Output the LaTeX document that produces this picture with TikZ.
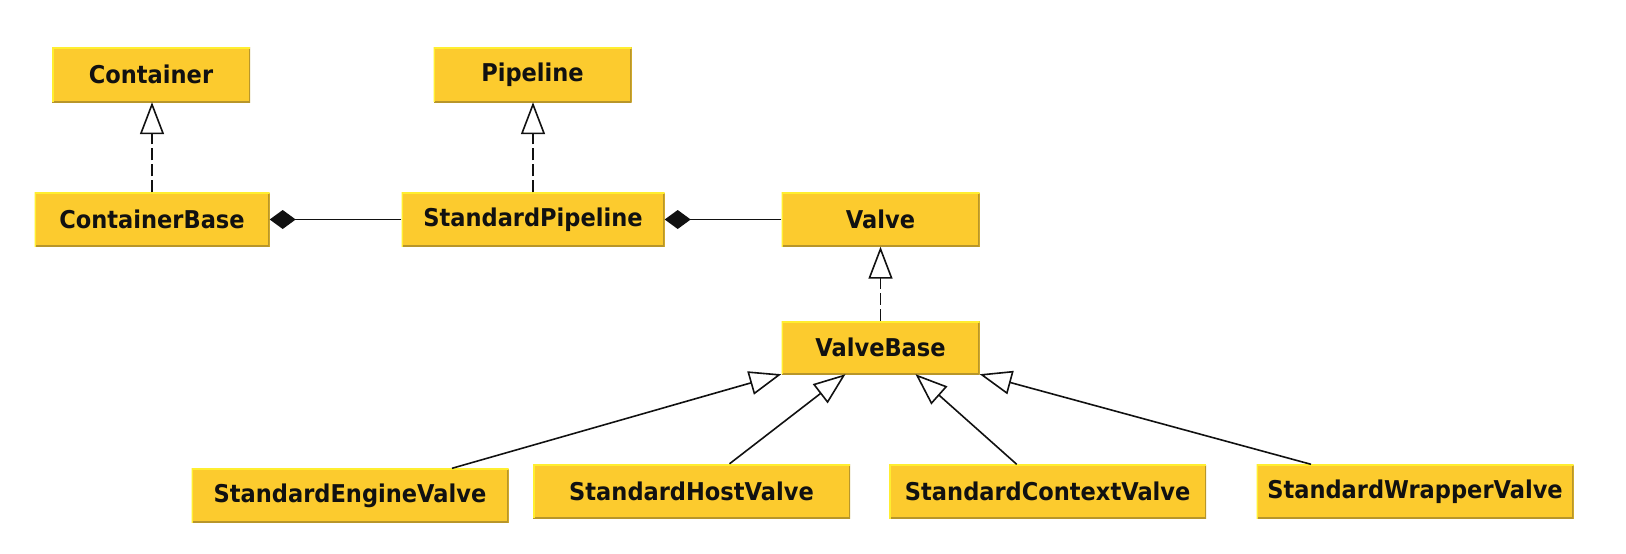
\documentclass[tikz,border=0pt]{standalone}
\usepackage{fontspec}
\setmainfont{DejaVu Sans}
\newfontfamily\boxfont[FakeStretch=0.92]{DejaVu Sans}
\usetikzlibrary{arrows.meta}
\definecolor{boxfill}{HTML}{FCCB2E}
\definecolor{boxlight}{HTML}{FFEE30}
\definecolor{boxdark}{HTML}{B8962A}
\definecolor{ink}{HTML}{111111}
\tikzset{
  umlbox/.style={fill=boxfill, inner sep=0pt, minimum height=54pt,
    font=\boxfont\fontsize{24.5}{28}\selectfont\bfseries, text=ink,
    path picture={
      \draw[boxdark, line width=3pt]
        (path picture bounding box.north east) -- (path picture bounding box.south east)
        -- (path picture bounding box.south west);
      \draw[boxlight, line width=3pt]
        (path picture bounding box.south west) -- (path picture bounding box.north west)
        -- (path picture bounding box.north east);
    }},
  realize/.style={draw=ink, line width=1.6pt, dash pattern=on 12pt off 4pt,
    -{Triangle[open, length=32pt, width=24pt, line width=1.6pt]}},
  inherit/.style={draw=ink, line width=1.6pt,
    -{Triangle[open, length=32pt, width=24pt, line width=1.6pt]}},
  compose/.style={draw=ink, line width=1.6pt,
    -{Diamond[length=26pt, width=19pt]}},
}
\begin{document}
\begin{tikzpicture}[x=1pt, y=-1pt]
\useasboundingbox (0,0) rectangle (1626,554);
\node[umlbox, minimum width=198pt, minimum height=55pt] (cont) at (151,74.5) {Container};
\node[umlbox, minimum width=198pt, minimum height=55pt] (pipe) at (532.5,74.5) {Pipeline};
\node[umlbox, minimum width=235pt] (contbase) at (152,219.5) {ContainerBase};
\node[umlbox, minimum width=263pt] (stdpipe) at (533,219.5) {StandardPipeline};
\node[umlbox, minimum width=198pt] (valve) at (880.5,219.5) {Valve};
\node[umlbox, minimum width=198pt, minimum height=53pt] (vbase) at (880.5,347.5) {ValveBase};
\node[umlbox, minimum width=317pt] (sev) at (350,495.5) {StandardEngineValve};
\node[umlbox, minimum width=317pt] (shv) at (691.5,491) {StandardHostValve};
\node[umlbox, minimum width=317pt] (scv) at (1047.7,491.5) {StandardContextValve};
\node[umlbox, minimum width=317pt] (swv) at (1415,491.5) {StandardWrapperValve};

\draw[realize] (contbase.north) -- (contbase.north |- cont.south);
\draw[realize] (stdpipe.north) -- (stdpipe.north |- pipe.south);
\draw[realize] (vbase.north) -- (valve.south);

\draw[compose] (stdpipe.west) -- (contbase.east);
\draw[compose] (valve.west) -- (stdpipe.east);

\draw[inherit] ([xshift=102pt]sev.north) -- (vbase.south west);
\draw[inherit] ([xshift=38pt]shv.north) -- ([xshift=-35pt]vbase.south);
\draw[inherit] ([xshift=-31pt]scv.north) -- ([xshift=35pt]vbase.south);
\draw[inherit] ([xshift=-104pt]swv.north) -- (vbase.south east);
\end{tikzpicture}
\end{document}
